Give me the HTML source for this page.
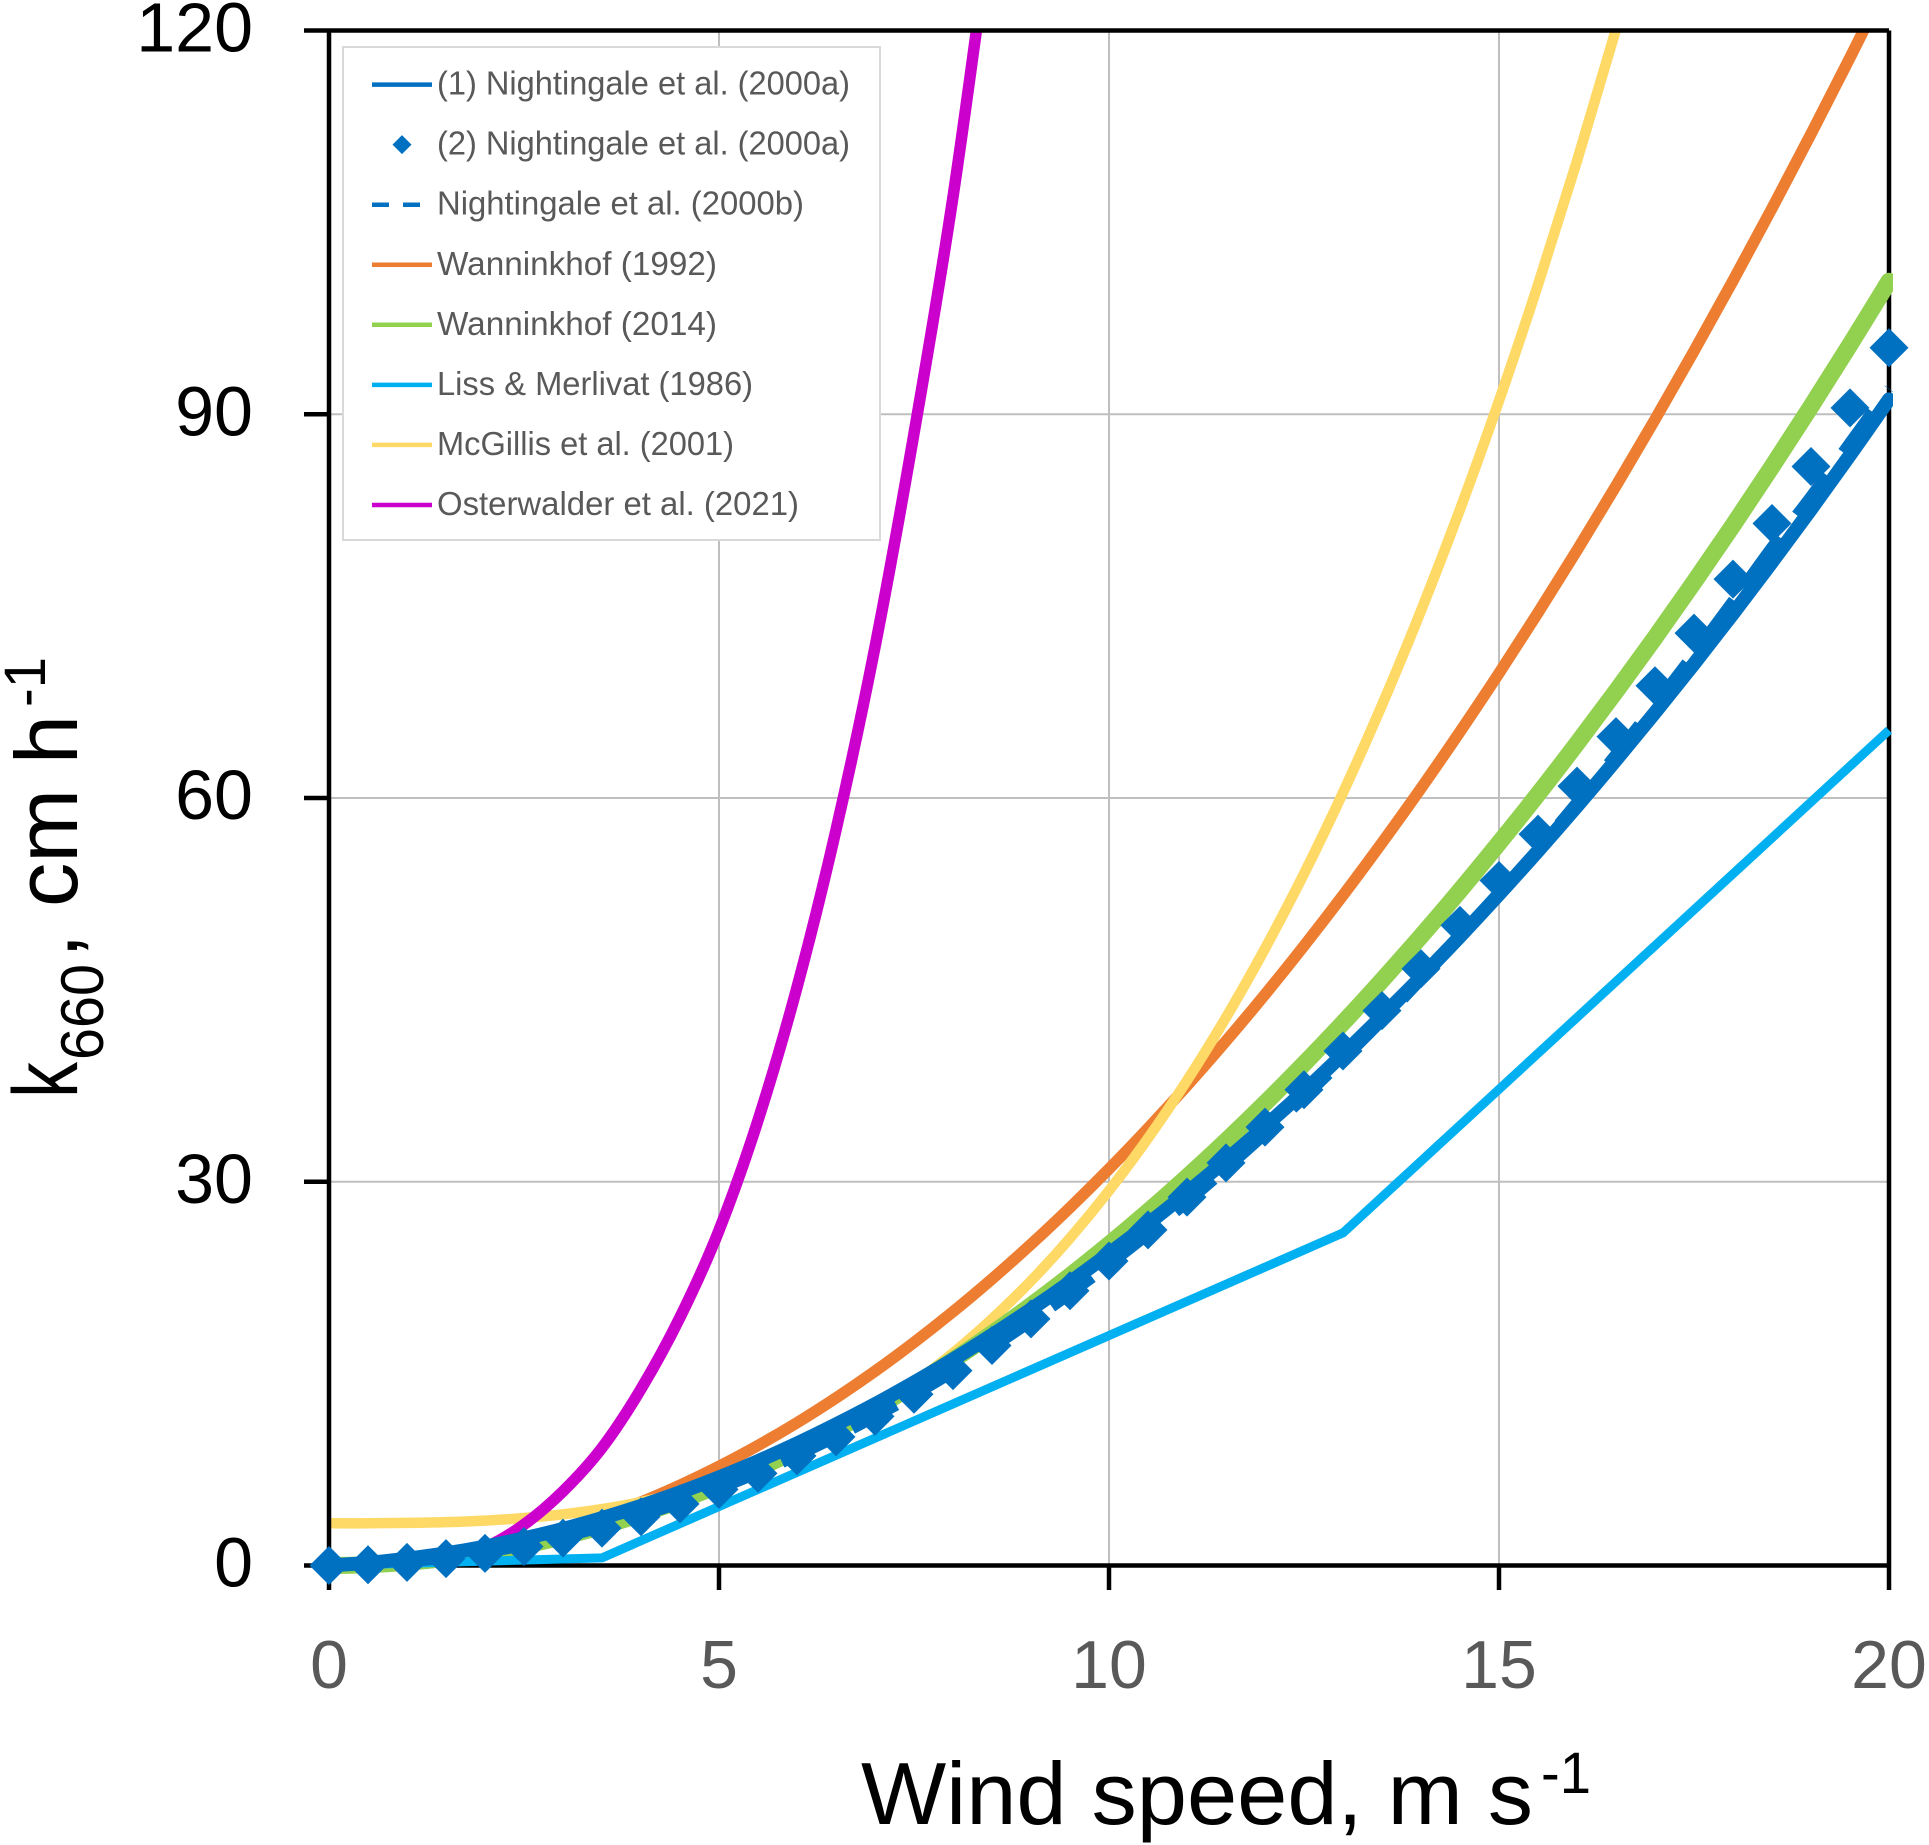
<!DOCTYPE html>
<html lang="en">
<head>
<meta charset="utf-8">
<title>Gas transfer velocity vs wind speed</title>
<style>
html,body{margin:0;padding:0;background:#fff;}
body{width:1929px;height:1845px;overflow:hidden;}
svg{display:block;font-family:"Liberation Sans",sans-serif;}
</style>
</head>
<body>
<svg id="chart" xmlns="http://www.w3.org/2000/svg" width="1929" height="1845" viewBox="0 0 1929 1845">
  <defs>
    <clipPath id="plot-clip"><rect x="320" y="30" width="1573" height="1570"/></clipPath>
  </defs>
  <g id="grid"></g>
  <g id="series" clip-path="url(#plot-clip)"></g>
  <g id="axes"></g>
  <g id="overlay"></g>

  <g fill="#000">
    <text x="861" y="1824" font-size="88" textLength="672" lengthAdjust="spacingAndGlyphs">Wind speed, m s</text>
    <text x="1541" y="1793" font-size="58" textLength="50" lengthAdjust="spacingAndGlyphs">-1</text>
  </g>
  <g fill="#000">
    <text transform="translate(77 1098) rotate(-90)" font-size="92" textLength="36" lengthAdjust="spacingAndGlyphs">k</text>
    <text transform="translate(103 1060) rotate(-90)" font-size="60" textLength="96" lengthAdjust="spacingAndGlyphs">660</text>
    <text transform="translate(77 958) rotate(-90)" font-size="88">,</text>
    <text transform="translate(77 907) rotate(-90)" font-size="88" textLength="192" lengthAdjust="spacingAndGlyphs">cm h</text>
    <text transform="translate(45 707) rotate(-90)" font-size="58" textLength="50" lengthAdjust="spacingAndGlyphs">-1</text>
  </g>

  <g id="legend"></g>
</svg>
<script>
// Chart data
const xTickLabels = [0, 5, 10, 15, 20];
const yTickLabels = [0, 30, 60, 90, 120];
const windSpeeds = [0,0.5,1,1.5,2,2.5,3,3.5,4,4.5,5,5.5,6,6.5,7,7.5,8,8.5,9,9.5,10,10.5,11,11.5,12,12.5,13,13.5,14,14.5,15,15.5,16,16.5,17,17.5,18,18.5,19,19.5,20];
const nightingale1 = [0,0.21,0.53,0.95,1.48,2.12,2.86,3.71,4.66,5.72,6.89,8.16,9.54,11.03,12.61,14.31,16.11,18.02,20.03,22.15,24.38,26.71,29.15,31.69,34.34,37.08,39.97,42.95,46.01,49.18,52.47,55.86,59.36,62.97,66.68,70.49,74.41,78.44,82.57,86.81,91.16];
const nightingale2 = [0,0.06,0.24,0.54,0.95,1.49,2.14,2.92,3.81,4.82,5.95,7.2,8.57,10.06,11.66,13.39,15.23,17.2,19.28,21.48,23.8,26.24,28.8,31.48,34.27,37.19,40.22,43.38,46.65,50.04,53.55,57.18,60.93,64.8,68.78,72.89,77.11,81.46,85.92,90.5,95.2];
const nightingaleB = [0,0.08,0.28,0.59,1.02,1.56,2.22,2.99,3.88,4.88,6,7.23,8.58,10.04,11.62,13.31,15.12,17.04,19.08,21.23,23.5,25.88,28.38,31,33.72,36.56,39.52,42.58,45.78,49.08,52.5,56.03,59.68,63.44,67.32,71.31,75.42,79.63,83.6,87.8,92];
const wanninkhof1992 = [0,0.08,0.31,0.7,1.24,1.94,2.79,3.8,4.96,6.28,7.75,9.38,11.16,13.1,15.19,17.44,19.84,22.4,25.11,27.98,31,34.18,37.51,41,44.64,48.44,52.39,56.5,60.76,65.18,69.75,74.48,79.36,84.4,89.59,94.94,100.44,106.1,111.91,117.88,124];
const wanninkhof2014 = [0,0.06,0.25,0.56,1,1.57,2.26,3.07,4.02,5.08,6.28,7.59,9.04,10.6,12.3,14.12,16.06,18.13,20.33,22.65,25.1,27.67,30.37,33.19,36.14,39.22,42.42,45.75,49.2,52.77,56.48,60.3,64.26,68.34,72.54,76.87,81.32,85.9,90.61,95.44,100.4];
const mcgillis = [3.3,3.3,3.33,3.39,3.51,3.71,4,4.41,4.96,5.67,6.55,7.63,8.92,10.44,12.22,14.27,16.61,19.27,22.25,25.59,29.3,33.4,37.91,42.84,48.23,54.08,60.42,67.27,74.64,82.56,91.05,100.12,109.8,120.09,131.04];
const osterwalder = [0,0,0.1,0.4,1.4,3.2,5.8,9.2,13.8,19.4,26.2,34.8,45.2,57.5,71.8,88.5,107,129];
const lissWind = [0,3.5,13,20];
const lissMerlivat = [0,0.6,26,65.3];
const legendLabels = ["(1) Nightingale et al. (2000a)","(2) Nightingale et al. (2000a)","Nightingale et al. (2000b)","Wanninkhof (1992)","Wanninkhof (2014)","Liss & Merlivat (1986)","McGillis et al. (2001)","Osterwalder et al. (2021)"];

const NS = 'http://www.w3.org/2000/svg';
function xScale(u){ return 329 + (u / 20) * 1560; }
function yScale(k){ return 1565.5 - (k / 120) * 1535; }
function make(tag, attrs, parent){
  const el = document.createElementNS(NS, tag);
  for (const key in attrs) el.setAttribute(key, attrs[key]);
  parent.appendChild(el);
  return el;
}
function pathFrom(xs, ys){
  return ys.map((v, i) => (i ? 'L' : 'M') + xScale(xs[i]).toFixed(2) + ' ' + yScale(v).toFixed(2)).join(' ');
}
// smooth Catmull-Rom curve through the data points
function curveFrom(xs, ys){
  const px = ys.map((v, i) => xScale(xs[i]));
  const py = ys.map(v => yScale(v));
  let d = 'M' + px[0].toFixed(2) + ' ' + py[0].toFixed(2);
  for (let i = 0; i < ys.length - 1; i++) {
    const a = Math.max(i - 1, 0), b = Math.min(i + 2, ys.length - 1);
    const c1x = px[i] + (px[i + 1] - px[a]) / 6, c1y = py[i] + (py[i + 1] - py[a]) / 6;
    const c2x = px[i + 1] - (px[b] - px[i]) / 6, c2y = py[i + 1] - (py[b] - py[i]) / 6;
    d += ' C' + c1x.toFixed(2) + ' ' + c1y.toFixed(2) + ' ' + c2x.toFixed(2) + ' ' + c2y.toFixed(2) + ' ' + px[i + 1].toFixed(2) + ' ' + py[i + 1].toFixed(2);
  }
  return d;
}
const gridG = document.getElementById('grid');
const axesG = document.getElementById('axes');
const seriesG = document.getElementById('series');
const overlayG = document.getElementById('overlay');
const legendG = document.getElementById('legend');

// gridlines, ticks, tick labels
xTickLabels.forEach(t => {
  if (t > 0 && t < 20) {
    const g = make('line', {x1:xScale(t), x2:xScale(t), y1:yScale(120), y2:yScale(0), stroke:'#bfbfbf', 'stroke-width':2}, gridG);
    
    
  }
  const tick = make('line', {x1:xScale(t), x2:xScale(t), y1:yScale(0), y2:1590, stroke:'#000', 'stroke-width':4.5}, axesG);
  
  
  const label = make('text', {x:xScale(t), y:1688, 'font-size':68, fill:'#595959', 'text-anchor':'middle'}, axesG);
  label.textContent = t;
  
  
});
yTickLabels.forEach(t => {
  if (t > 0 && t < 120) {
    const g = make('line', {x1:xScale(0), x2:xScale(20), y1:yScale(t), y2:yScale(t), stroke:'#bfbfbf', 'stroke-width':2}, gridG);
    
    
  }
  const isEdge = (t === 0 || t === 120);
  const tick = make('line', {x1:304, x2:isEdge ? xScale(20) : xScale(0), y1:yScale(t), y2:yScale(t), stroke:'#000', 'stroke-width':4.5}, axesG);
  
  
  const label = make('text', {x:253, y:yScale(t) + 21, 'font-size':70, fill:'#000', 'text-anchor':'end'}, axesG);
  label.textContent = t;
  
  
});
const leftAxis = make('line', {x1:xScale(0), x2:xScale(0), y1:yScale(120), y2:yScale(0), stroke:'#000', 'stroke-width':4.5}, axesG);


const rightAxis = make('line', {x1:xScale(20), x2:xScale(20), y1:yScale(120), y2:yScale(0), stroke:'#000', 'stroke-width':4.5}, axesG);



// series lines under the frame
const orangeLine = make('path', {d:curveFrom(windSpeeds, wanninkhof1992), fill:'none', stroke:'#ED7D31', 'stroke-width':11.5, 'stroke-linejoin':'round'}, seriesG);


const yellowLine = make('path', {d:curveFrom(windSpeeds, mcgillis), fill:'none', stroke:'#FFD966', 'stroke-width':10.5, 'stroke-linejoin':'round'}, seriesG);


const purpleLine = make('path', {d:curveFrom(windSpeeds, osterwalder), fill:'none', stroke:'#CC00CC', 'stroke-width':11.5, 'stroke-linejoin':'round'}, seriesG);



// overlay above the frame
const overlayClip = make('g', {'clip-path':'url(#plot-clip)'}, overlayG);


const greenLine = make('path', {d:curveFrom(windSpeeds, wanninkhof2014), fill:'none', stroke:'#92D050', 'stroke-width':17, 'stroke-linecap':'round', 'stroke-linejoin':'round'}, overlayClip);


const lissLine = make('path', {d:pathFrom(lissWind, lissMerlivat), fill:'none', stroke:'#00B0F0', 'stroke-width':9, 'stroke-linejoin':'round'}, overlayClip);


const solidLine = make('path', {d:curveFrom(windSpeeds, nightingale1), fill:'none', stroke:'#0070C0', 'stroke-width':14, 'stroke-linecap':'round', 'stroke-linejoin':'round'}, overlayClip);


const dashedLine = make('path', {d:curveFrom(windSpeeds, nightingaleB), fill:'none', stroke:'#0070C0', 'stroke-width':11, 'stroke-dasharray':'50 28', 'stroke-linejoin':'round'}, overlayClip);


nightingale2.forEach((k, i) => {
  const cx = xScale(windSpeeds[i]), cy = yScale(k), r = 19.5;
  const d = make('polygon', {points:`${cx},${cy-r} ${cx+r},${cy} ${cx},${cy+r} ${cx-r},${cy}`, fill:'#0070C0'}, overlayG);
  
  
});

// legend
const legendBox = make('rect', {x:343, y:47, width:537, height:493, fill:'#fff', stroke:'#d9d9d9', 'stroke-width':2}, legendG);


const legendColors = ['#0070C0','#0070C0','#0070C0','#ED7D31','#92D050','#00B0F0','#FFD966','#CC00CC'];
const legendWidths = [412,412,366,279,279,315,296,361];
legendLabels.forEach((label, i) => {
  const y = 84.6 + i * 60.05;
  const row = make('g', {}, legendG);
  
  
  if (i === 1) {
    const mark = make('polygon', {points:`402,${y-9.5} 411.5,${y} 402,${y+9.5} 392.5,${y}`, fill:legendColors[i]}, row);
    
    
  } else {
    const key = make('line', {x1:372, x2:i === 2 ? 421 : 432, y1:y, y2:y, stroke:legendColors[i], 'stroke-width':4.5}, row);
    if (i === 2) key.setAttribute('stroke-dasharray', '17 14');
    
    
  }
  const text = make('text', {x:437, y:y + 10, 'font-size':33, fill:'#595959', textLength:legendWidths[i] + 1, lengthAdjust:'spacingAndGlyphs'}, row);
  text.textContent = label;
  
  
});
</script>
</body>
</html>
